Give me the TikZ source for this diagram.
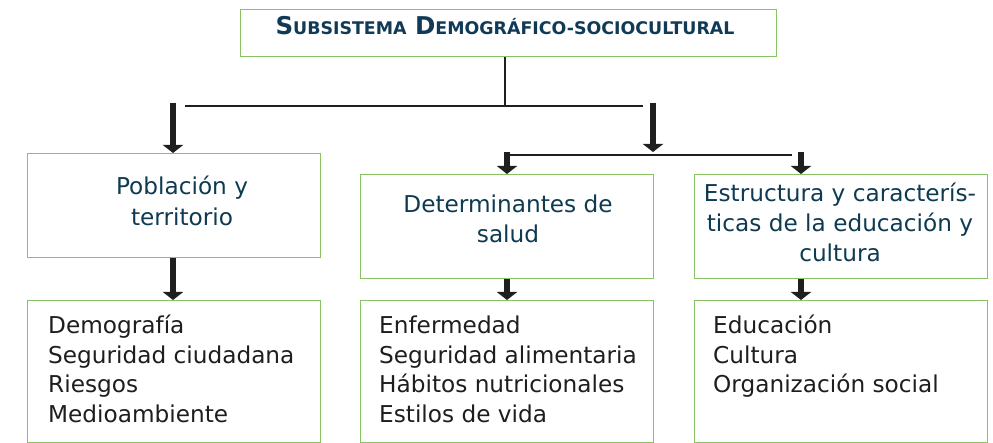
\documentclass[tikz,border=0pt]{standalone}
\usepackage{fontspec}
\setmainfont{DejaVu Sans}
\usetikzlibrary{arrows.meta}
\definecolor{boxgreen}{RGB}{135,194,100}
\definecolor{titleblue}{RGB}{16,58,85}
\definecolor{headblue}{RGB}{14,58,82}
\definecolor{listgray}{RGB}{30,30,30}
\newcommand\bigsc[1]{{\fontsize{24.5}{28}\selectfont #1}}
\newcommand\smallsc[1]{{\fontsize{17.4}{22}\selectfont #1}}
\tikzset{
  box/.style={draw=boxgreen, line width=1.4pt, fill=white, inner sep=0pt, anchor=north west},
  headtxt/.style={anchor=base, inner sep=0pt, text=headblue, font=\fontsize{23.2}{28}\selectfont},
  listtxt/.style={anchor=base west, inner sep=0pt, text=listgray, font=\fontsize{23.2}{28}\selectfont},
  conn/.style={draw=black!88, line width=2.8pt},
  arr/.style={draw=black!88, line width=6pt, -{Triangle[width=20pt,length=8pt]}},
}
\begin{document}
\begin{tikzpicture}[x=1pt,y=-1pt]
\useasboundingbox (0,0) rectangle (993,443);
% boxes
\node[box, minimum width=536pt, minimum height=47pt] (title) at (240,9) {};
\node[box, minimum width=293pt, minimum height=104pt] (b1) at (27,153) {};
\node[box, minimum width=293pt, minimum height=104pt] (b2) at (360,174) {};
\node[box, minimum width=293pt, minimum height=104pt] (b3) at (694,174) {};
\node[box, minimum width=293pt, minimum height=142pt] (b4) at (27,300) {};
\node[box, minimum width=293pt, minimum height=142pt] (b5) at (360,300) {};
\node[box, minimum width=293pt, minimum height=142pt] (b6) at (694,300) {};
% title text
\node[anchor=base, inner sep=0pt, text=titleblue, font=\bfseries] (ttxt) at (505,35)
  {\bigsc{S}\smallsc{UBSISTEMA}\hspace{5pt} \bigsc{D}\smallsc{EMOGRÁFICO-SOCIOCULTURAL}};
% header texts
\node[headtxt] (h1a) at (182,195) {Población y};
\node[headtxt] (h1b) at (182,226) {territorio};
\node[headtxt] (h2a) at (508,213) {Determinantes de};
\node[headtxt] (h2b) at (508,243) {salud};
\node[headtxt] (h3a) at (840,202) {Estructura y caracterís-};
\node[headtxt] (h3b) at (840,232) {ticas de la educación y};
\node[headtxt] (h3c) at (840,262) {cultura};
% lists
\node[listtxt] (l4a) at (48,334) {Demografía};
\node[listtxt] (l4b) at (48,363) {Seguridad ciudadana};
\node[listtxt] (l4c) at (48,392.5) {Riesgos};
\node[listtxt] (l4d) at (48,422) {Medioambiente};
\node[listtxt] (l5a) at (379,334) {Enfermedad};
\node[listtxt] (l5b) at (379,363) {Seguridad alimentaria};
\node[listtxt] (l5c) at (379,392.5) {Hábitos nutricionales};
\node[listtxt] (l5d) at (379,422) {Estilos de vida};
\node[listtxt] (l6a) at (713,334) {Educación};
\node[listtxt] (l6b) at (713,363) {Cultura};
\node[listtxt] (l6c) at (713,392.5) {Organización social};
% connector coordinates
\coordinate (hL) at (185,106);
\coordinate (hR) at (643,106);
\coordinate (a1) at (173,103);
\coordinate (a2) at (653,103);
\coordinate (kL) at (505,155);
\coordinate (kR) at (792,155);
\coordinate (k1) at (507,152);
\coordinate (k2) at (801,152);
% connectors
\draw[conn] (title.south -| kL) -- (hL -| kL);
\draw[conn] (hL) -- (hR);
\draw[conn] (kL) -- (kR);
\draw[arr] (a1) -- (a1 |- b1.north);
\draw[arr] (a2) -- (a2 |- k1);
\draw[arr] (k1) -- (k1 |- b2.north);
\draw[arr] (k2) -- (k2 |- b3.north);
\draw[arr] (b1.south -| a1) -- (b4.north -| a1);
\draw[arr] (b2.south -| k1) -- (b5.north -| k1);
\draw[arr] (b3.south -| k2) -- (b6.north -| k2);
\end{tikzpicture}
\end{document}
